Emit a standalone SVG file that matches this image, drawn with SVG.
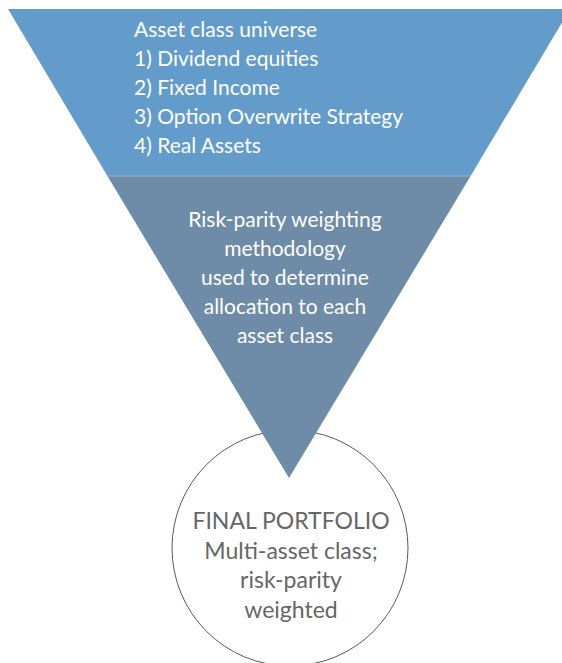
<svg xmlns="http://www.w3.org/2000/svg" width="562" height="663" viewBox="0 0 562 663">
<style>
.w{fill:#ffffff;font-family:Lato,"Source Sans Pro","Liberation Sans",sans-serif;font-size:21px}
.g{fill:#666666;font-family:Lato,"Source Sans Pro","Liberation Sans",sans-serif;font-size:23px;text-anchor:middle}
.c{text-anchor:middle}
</style>
<rect width="562" height="663" fill="#ffffff"/>
<g id="portfolio">
<circle cx="290" cy="548" r="118" fill="#ffffff" stroke="#5a5a5a" stroke-width="1"/>
<text class="g" x="291" y="529">FINAL PORTFOLIO</text>
<text class="g" x="291" y="559">Multi-asset class;</text>
<text class="g" x="291" y="588">risk-parity</text>
<text class="g" x="291" y="618">weighted</text>
</g>
<g id="method">
<polygon points="107.4,176 470.6,176 289,478" fill="#6e8ba7"/>
<text class="w c" x="285" y="227">Risk-parity weighting</text>
<text class="w c" x="285" y="256">methodology</text>
<text class="w c" x="285" y="285">used to determine</text>
<text class="w c" x="285" y="314">allocation to each</text>
<text class="w c" x="285" y="343">asset class</text>
</g>
<g id="universe">
<polygon points="8,9 570,9 470.6,176 107.4,176" fill="#639cca"/>
<line x1="107.4" y1="176" x2="470.6" y2="176" stroke="#8fb6d8" stroke-width="1"/>
<text class="w" x="134" y="37">Asset class universe</text>
<text class="w" x="134" y="66">1) Dividend equities</text>
<text class="w" x="134" y="95">2) Fixed Income</text>
<text class="w" x="134" y="124">3) Option Overwrite Strategy</text>
<text class="w" x="134" y="153">4) Real Assets</text>
</g>
</svg>
